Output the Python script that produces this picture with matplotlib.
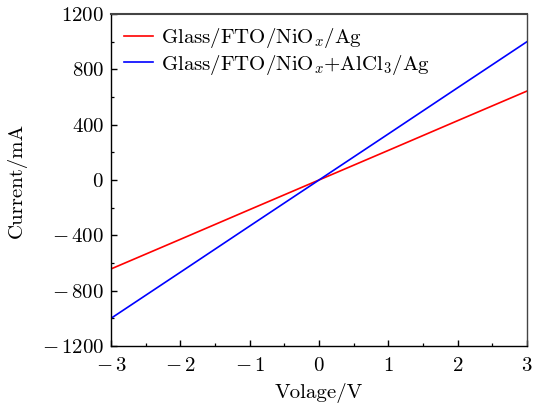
import matplotlib
matplotlib.use("Agg")
from matplotlib import pyplot as plt
from matplotlib.ticker import MultipleLocator, FuncFormatter

# DATA
voltage = [-3, -2, -1, 0, 1, 2, 3]
current_nio = [-643, -429, -214, 0, 214, 429, 643]
current_alcl = [-1000, -667, -333, 0, 333, 667, 1000]
labels = [r"Glass/FTO/NiO$_x$/Ag", r"Glass/FTO/NiO$_x$+AlCl$_3$/Ag"]

plt.rcParams["font.family"] = "serif"
plt.rcParams["font.serif"] = ["cmr10", "DejaVu Serif"]
plt.rcParams["mathtext.fontset"] = "cm"
plt.rcParams["axes.unicode_minus"] = False
plt.rcParams["font.size"] = 15


def math_fmt(v, pos):
    if v < 0:
        return r"$-\,%g$" % abs(v)
    return r"$%g$" % v


def main():
    fig = plt.figure(figsize=(5.33, 4.05), dpi=100)
    ax = fig.add_axes([111 / 533, 1 - 346 / 405, 416 / 533, 332 / 405])

    ax.plot(voltage, current_nio, color="red", lw=1.2, label=labels[0])
    ax.plot(voltage, current_alcl, color="blue", lw=1.2, label=labels[1])

    ax.set_xlim(-3, 3)
    ax.set_ylim(-1200, 1200)
    ax.xaxis.set_major_locator(MultipleLocator(1))
    ax.xaxis.set_minor_locator(MultipleLocator(0.5))
    ax.yaxis.set_major_locator(MultipleLocator(400))
    ax.yaxis.set_minor_locator(MultipleLocator(200))
    ax.xaxis.set_major_formatter(FuncFormatter(math_fmt))
    ax.yaxis.set_major_formatter(FuncFormatter(math_fmt))

    ax.tick_params(which="both", direction="in", top=False, right=False)
    ax.tick_params(which="major", length=4.5, width=1, pad=5)
    ax.tick_params(axis="x", which="major", pad=8)
    ax.tick_params(which="minor", length=2.5, width=0.9)
    for s in ax.spines.values():
        s.set_linewidth(1.0)
    ax.spines["top"].set_color("#444444")
    ax.spines["top"].set_linewidth(1.5)
    ax.spines["right"].set_color("#444444")

    ax.set_xlabel("Volage/V", labelpad=6)
    ax.set_ylabel("Current/mA", labelpad=11)

    ax.legend(loc="upper left", frameon=False, handlelength=1.4,
              handletextpad=0.4, borderaxespad=0.3, borderpad=0.3,
              labelspacing=0.1)

    fig.savefig("out.png", dpi=100)


if __name__ == "__main__":
    main()
